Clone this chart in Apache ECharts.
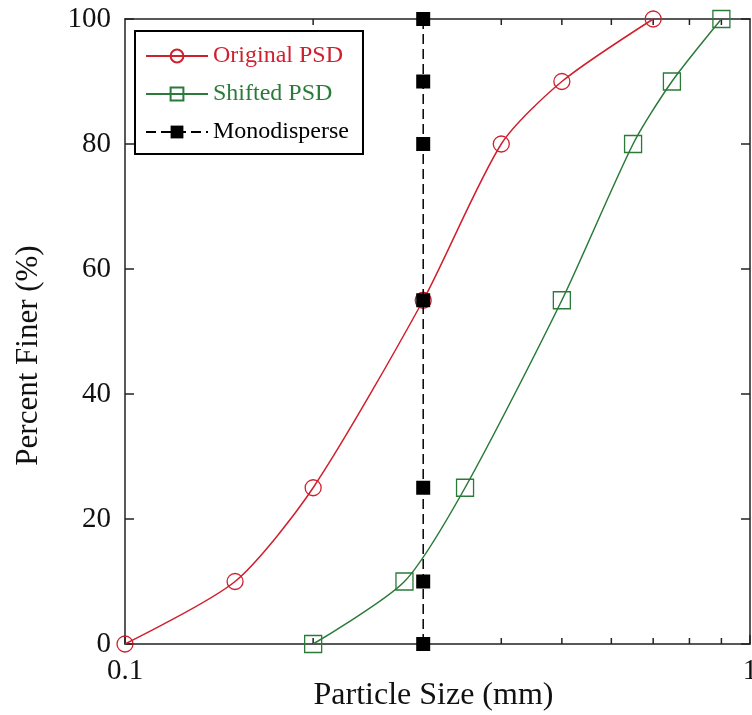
<!DOCTYPE html>
<html>
<head>
<meta charset="utf-8">
<script src="https://cdn.jsdelivr.net/npm/echarts@6/dist/echarts.min.js"></script>
<style>
html,body{margin:0;padding:0;background:#fff;}
#chart{width:752px;height:715px;}
</style>
</head>
<body>
<div id="chart"></div>
<script>
// ---- data ----
const originalSize = [0.1, 0.15, 0.2, 0.3, 0.4, 0.5, 0.7];
const originalFiner = [0, 10, 25, 55, 80, 90, 100];
const shiftedSize = [0.2, 0.28, 0.35, 0.5, 0.65, 0.75, 0.9];
const shiftedFiner = [0, 10, 25, 55, 80, 90, 100];
const monoSize = [0.3, 0.3, 0.3, 0.3, 0.3, 0.3, 0.3];
const monoFiner = [0, 10, 25, 55, 80, 90, 100];
const minorTickValues = [0.2, 0.3, 0.4, 0.5, 0.6, 0.7, 0.8, 0.9];
const yTicks = [0, 20, 40, 60, 80, 100];
const seriesNames = ['Original PSD', 'Shifted PSD', 'Monodisperse'];

const RED = '#d0202e';
const GREEN = '#2a7a3a';
const FONT = "'Liberation Serif', 'Times New Roman', serif";

const zip = (a, b) => a.map((v, i) => [v, b[i]]);

const chart = echarts.init(document.getElementById('chart'), null, {renderer: 'canvas'});

const option = {
  backgroundColor: '#fff',
  animation: false,
  grid: {left: 125, right: 2, top: 19, bottom: 71, containLabel: false, outerBoundsMode: 'none'},
  legend: {
    orient: 'vertical',
    left: 135,
    top: 31,
    backgroundColor: '#fff',
    borderColor: '#000',
    borderWidth: 2,
    padding: [13, 14, 10, 10],
    itemWidth: 62,
    itemHeight: 16,
    itemGap: 14,
    textStyle: {fontFamily: FONT, fontSize: 24, color: '#000'},
    data: [
      {name: seriesNames[0], textStyle: {color: RED}},
      {name: seriesNames[1], textStyle: {color: GREEN}},
      {name: seriesNames[2], textStyle: {color: '#000'}}
    ]
  },
  xAxis: [
    {
      type: 'log', logBase: 10, min: 0.1, max: 1, position: 'bottom',
      name: 'Particle Size (mm)', nameLocation: 'middle', nameGap: 36, nameMoveOverlap: false,
      nameTextStyle: {fontFamily: FONT, fontSize: 32, color: '#111', padding: [0, 8, 0, 0]},
      axisLine: {show: true, onZero: false, lineStyle: {color: '#222', width: 1.5}},
      axisTick: {show: true, inside: true, length: 9, lineStyle: {color: '#222', width: 1.5}},
      axisLabel: {
        fontFamily: FONT, fontSize: 29, color: '#111', margin: 13,
        formatter: v => Math.abs(v - 0.1) < 1e-9 ? '0.1' : (Math.abs(v - 1) < 1e-9 ? '1' : '')
      },
      splitLine: {show: false}
    },
    {
      type: 'log', logBase: 10, min: 0.1, max: 1, position: 'top',
      axisLine: {show: true, onZero: false, lineStyle: {color: '#222', width: 1.5}},
      axisTick: {show: false},
      axisLabel: {show: false},
      splitLine: {show: false}
    }
  ],
  yAxis: [
    {
      type: 'value', min: yTicks[0], max: yTicks[yTicks.length - 1], interval: 20, position: 'left',
      name: 'Percent Finer (%)', nameLocation: 'middle', nameGap: 81, nameMoveOverlap: false,
      nameTextStyle: {fontFamily: FONT, fontSize: 31, color: '#111', padding: [0, 48, 0, 0]},
      axisLine: {show: true, onZero: false, lineStyle: {color: '#222', width: 1.5}},
      axisTick: {show: true, inside: true, length: 9, lineStyle: {color: '#222', width: 1.5}},
      axisLabel: {fontFamily: FONT, fontSize: 29, color: '#111', margin: 14},
      splitLine: {show: false}
    },
    {
      type: 'value', min: yTicks[0], max: yTicks[yTicks.length - 1], interval: 20, position: 'right',
      axisLine: {show: true, onZero: false, lineStyle: {color: '#222', width: 1.5}},
      axisTick: {show: true, inside: true, length: 9, lineStyle: {color: '#222', width: 1.5}},
      axisLabel: {show: false},
      splitLine: {show: false}
    }
  ],
  series: [
    {
      type: 'custom',
      name: 'minorTicks',
      silent: true,
      xAxisIndex: 0, yAxisIndex: 0,
      clip: false,
      data: minorTickValues.map(v => [v, 0]),
      encode: {x: 0, y: 1},
      renderItem: function (params, api) {
        const b = api.coord([api.value(0), yTicks[0]]);
        const t = api.coord([api.value(0), yTicks[yTicks.length - 1]]);
        const st = {stroke: '#222', lineWidth: 1.5};
        return {
          type: 'group',
          children: [
            {type: 'line', shape: {x1: b[0], y1: b[1], x2: b[0], y2: b[1] - 6}, style: st},
            {type: 'line', shape: {x1: t[0], y1: t[1], x2: t[0], y2: t[1] + 6}, style: st}
          ]
        };
      },
      z: 1
    },
    {
      name: seriesNames[0],
      type: 'line',
      smooth: 0.25,
      data: zip(originalSize, originalFiner),
      symbol: 'circle',
      symbolSize: 16,
      lineStyle: {color: RED, width: 1.5},
      itemStyle: {color: 'rgba(255,255,255,0)', borderColor: RED, borderWidth: 1.3},
      z: 3
    },
    {
      name: seriesNames[1],
      type: 'line',
      smooth: 0.25,
      data: zip(shiftedSize, shiftedFiner),
      symbol: 'rect',
      symbolSize: 17,
      lineStyle: {color: GREEN, width: 1.5},
      itemStyle: {color: 'rgba(255,255,255,0)', borderColor: GREEN, borderWidth: 1.3},
      z: 3
    },
    {
      name: seriesNames[2],
      type: 'line',
      data: zip(monoSize, monoFiner),
      symbol: 'rect',
      symbolSize: 14,
      lineStyle: {color: '#000', width: 1.5, type: [10, 5]},
      itemStyle: {color: '#000', borderColor: '#000', borderWidth: 0},
      z: 4
    }
  ]
};

chart.setOption(option);
</script>
</body>
</html>
